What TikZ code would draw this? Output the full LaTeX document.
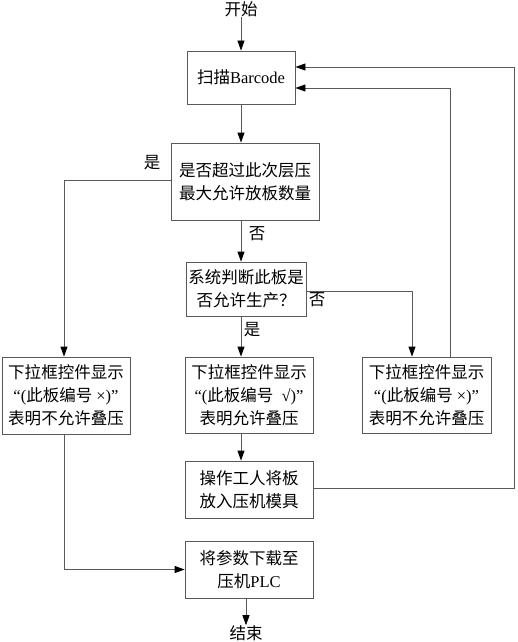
\documentclass[tikz,border=0pt]{standalone}
\usepackage{fontspec}
\setmainfont{Liberation Serif}
\newfontfamily\cjk{Noto Sans CJK SC}
\usetikzlibrary{arrows.meta}

\begin{document}
\begin{tikzpicture}[x=1pt,y=-1pt,
		box/.style={draw=black!65,line width=0.8pt,align=center,inner sep=0pt,font=\fontsize{16.5}{23}\selectfont},
		arr/.style={draw=black!65,line width=0.8pt,-{Triangle[length=10pt,width=7pt,color=black]}},
		lbl/.style={inner sep=0pt,font=\cjk\fontsize{16.5}{23}\selectfont}]
			\useasboundingbox (0,0) rectangle (517,642);
			\node[lbl] (start) at (241,9) {开始};
			\node[box,minimum width=108,minimum height=53] (scan) at (241,77.5) {{\cjk 扫描}Barcode};
			\node[box,minimum width=148,minimum height=77] (check) at (245,181.5) {\cjk 是否超过此次层压\\\cjk 最大允许放板数量};
			\node[box,minimum width=120,minimum height=54] (judge) at (246,289) {\cjk 系统判断此板是\\\cjk 否允许生产？};
			\node[box,minimum width=128,minimum height=77] (noL) at (66,395.5) {{\cjk 下拉框控件显示}\\“({\cjk 此板编号} ×)”\\{\cjk 表明不允许叠压}};
			\node[box,minimum width=128,minimum height=76] (yesM) at (249,395) {{\cjk 下拉框控件显示}\\“({\cjk 此板编号} \ √)”\\{\cjk 表明允许叠压}};
			\node[box,minimum width=129,minimum height=76] (noR) at (426.5,395) {{\cjk 下拉框控件显示}\\“({\cjk 此板编号} ×)”\\{\cjk 表明不允许叠压}};
			\node[box,minimum width=128,minimum height=57] (place) at (249,489.5) {\cjk 操作工人将板\\\cjk 放入压机模具};
			\node[box,minimum width=128,minimum height=57] (download) at (249,569.5) {{\cjk 将参数下载至}\\{\cjk 压机}PLC};
			\node[lbl] (finish) at (246,633) {结束};
			\draw[arr] (start.south) -- (scan.north);
			\draw[arr] (scan.south) -- (scan.south |- check.north);
			\draw[arr] ([xshift=-4]check.south) -- ([xshift=-4]check.south |- judge.north);
			\draw[arr] ([xshift=-5]judge.south) -- ([xshift=-5]judge.south |- yesM.north);
			\draw[arr] ([xshift=-8]yesM.south) -- ([xshift=-8]yesM.south |- place.north);
			\draw[arr] ([xshift=-3]download.south) -- ([xshift=-3]download.south |- finish.north);
			\draw[arr] ([yshift=1.5]check.west) -| ([xshift=-2]noL.north);
			\draw[arr] ([yshift=-2]judge.east) -| ([xshift=-14.5]noR.north);
			\draw[arr] ([xshift=23.5]noR.north) |- ([yshift=-10.5]scan.east);
			\draw[arr] ([yshift=1.5]place.east) -- ++(201,0) |- ([yshift=10.5]scan.east);
			\draw[arr] ([xshift=-2]noL.south) |- (download.west);
			\node[lbl] at (152,163) {是};
			\node[lbl] at (257,234) {否};
			\node[lbl] at (317,300) {否};
			\node[lbl] at (252,330) {是};
		\end{tikzpicture}
\end{document}
